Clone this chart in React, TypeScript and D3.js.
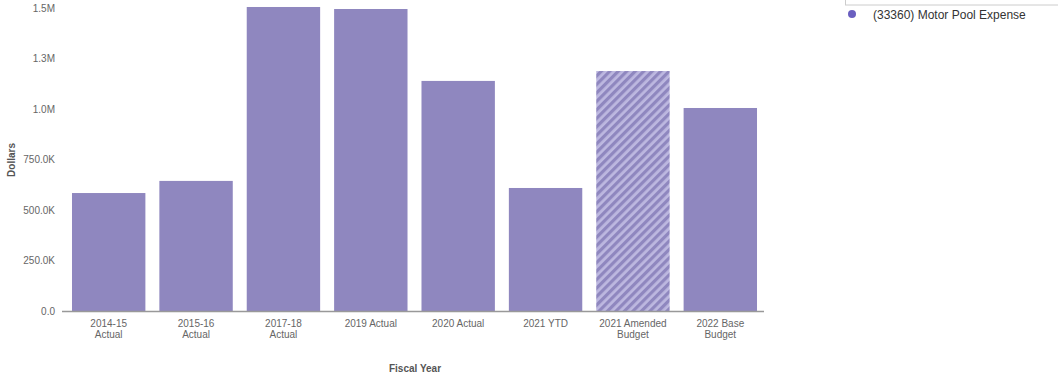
import React from "react";
import * as d3 from "d3";

const categories: string[][] = [
  ["2014-15", "Actual"],
  ["2015-16", "Actual"],
  ["2017-18", "Actual"],
  ["2019 Actual"],
  ["2020 Actual"],
  ["2021 YTD"],
  ["2021 Amended", "Budget"],
  ["2022 Base", "Budget"],
];
const values: number[] = [584000, 644000, 1505000, 1495000, 1139000, 609000, 1188000, 1005000];
const hatched: boolean[] = [false, false, false, false, false, false, true, false];
const yTicks: number[] = [0, 250000, 500000, 750000, 1000000, 1250000, 1500000];
const seriesName = "(33360) Motor Pool Expense";

const W = 1058;
const H = 377;
const BAR = "#8f87bf";

function fmt(v: number): string {
  if (v === 0) return "0.0";
  if (v >= 1e6) return (v / 1e6).toFixed(1) + "M";
  return (v / 1e3).toFixed(1) + "K";
}

export default function App() {
  const x = d3
    .scaleBand<number>()
    .domain(categories.map((_, i) => i))
    .range([65, 764])
    .paddingInner(0.16)
    .paddingOuter(0.08);
  const y = d3.scaleLinear().domain([0, 1500000]).range([311, 8]);
  const font = "Arial, 'Liberation Sans', sans-serif";

  return (
    <svg
      width={W}
      height={H}
      style={{ position: "absolute", left: 0, top: 0, fontFamily: font }}
    >
      <defs>
        <pattern
          id="hatch"
          patternUnits="userSpaceOnUse"
          width={6}
          height={6}
          patternTransform="rotate(45)"
        >
          <rect width={6} height={6} fill="#bdb8e0" />
          <rect width={3.2} height={6} fill={BAR} />
        </pattern>
      </defs>
      <rect width={W} height={H} fill="#fff" />
      {yTicks.map((t) => (
        <text
          key={t}
          x={55}
          y={y(t)}
          dy="0.35em"
          textAnchor="end"
          fontSize={10}
          fill="#666"
        >
          {fmt(t)}
        </text>
      ))}
      <text
        transform={`translate(15,${160}) rotate(-90)`}
        textAnchor="middle"
        fontSize={10}
        fontWeight="bold"
        fill="#555"
      >
        Dollars
      </text>
      {values.map((v, i) => (
        <rect
          key={i}
          x={x(i)!}
          y={y(v)}
          width={x.bandwidth()}
          height={y(0) - y(v)}
          fill={hatched[i] ? "url(#hatch)" : BAR}
        />
      ))}
      <line x1={62} x2={764} y1={311.5} y2={311.5} stroke="#999" strokeWidth={1.5} />
      {categories.map((lines, i) => (
        <text
          key={i}
          x={x(i)! + x.bandwidth() / 2}
          y={327}
          textAnchor="middle"
          fontSize={10}
          fill="#666"
        >
          {lines.map((l, j) => (
            <tspan key={j} x={x(i)! + x.bandwidth() / 2} dy={j === 0 ? 0 : 11}>
              {l}
            </tspan>
          ))}
        </text>
      ))}
      <text x={415} y={372} textAnchor="middle" fontSize={10} fontWeight="bold" fill="#555">
        Fiscal Year
      </text>
      <rect x={845.5} y={-20} width={220} height={25} fill="none" stroke="#ccc" />
      <circle cx={852} cy={14} r={4} fill="#6a5fc0" />
      <text x={873} y={18.5} fontSize={12} fill="#333">
        {seriesName}
      </text>
    </svg>
  );
}
